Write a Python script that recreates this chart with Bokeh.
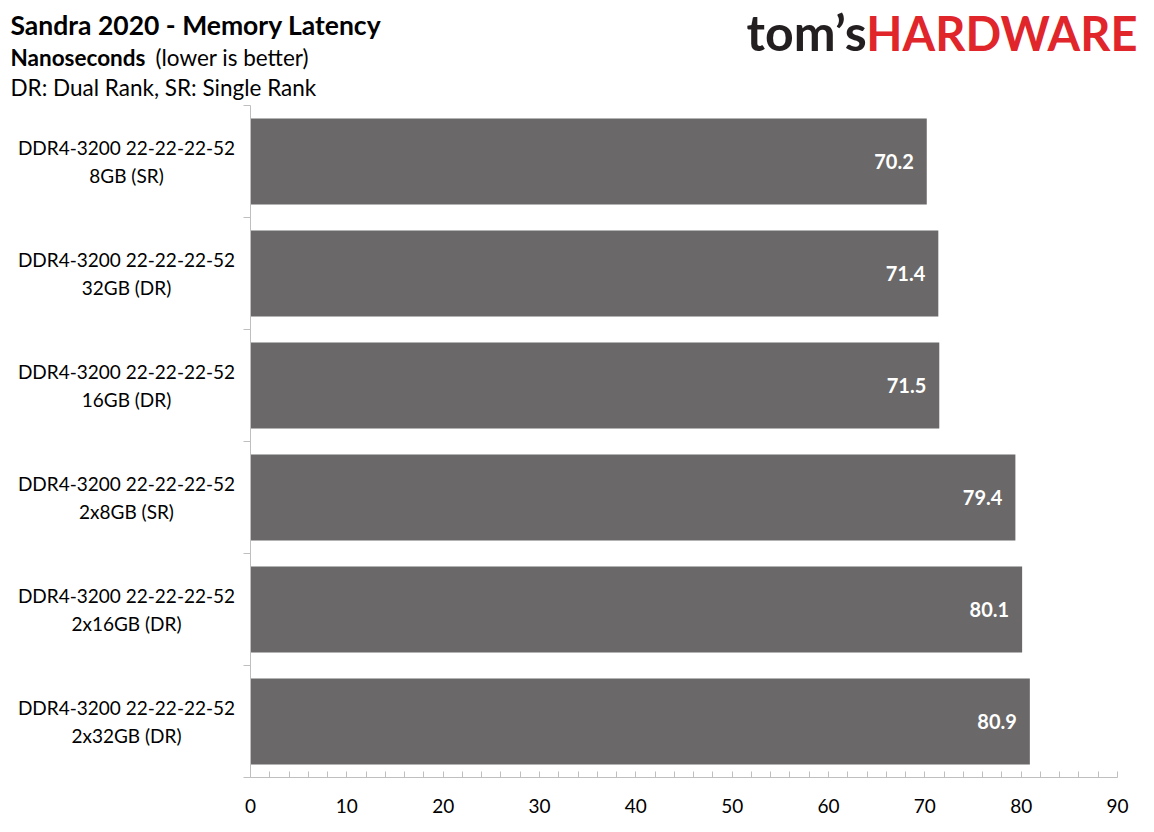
from bokeh.plotting import figure
from bokeh.layouts import column, row
from bokeh.models import ColumnDataSource, Range1d, LinearAxis, FixedTicker
from bokeh.core.properties import value
from bokeh.embed import file_html
from bokeh.resources import INLINE

categories = [
    "DDR4-3200 22-22-22-52\n8GB (SR)",
    "DDR4-3200 22-22-22-52\n32GB (DR)",
    "DDR4-3200 22-22-22-52\n16GB (DR)",
    "DDR4-3200 22-22-22-52\n2x8GB (SR)",
    "DDR4-3200 22-22-22-52\n2x16GB (DR)",
    "DDR4-3200 22-22-22-52\n2x32GB (DR)",
]
latency_ns = [70.2, 71.4, 71.5, 79.4, 80.1, 80.9]
x_ticks = [0, 10, 20, 30, 40, 50, 60, 70, 80, 90]

title = "Sandra 2020 - Memory Latency"
subtitle_bold = "Nanoseconds"
subtitle_rest = "(lower is better)"
note = "DR: Dual Rank, SR: Single Rank"
logo_a = "tom\u2019s"
logo_b = "HARDWARE"

FONT = "Lato"
BAR = "#6a6868"
AXIS = "#bfbfbf"

W, H = 1138, 816
HEAD_H = 105          # header strip height
LAB_W = 243           # category label strip width
BODY_H = H - HEAD_H
n = len(categories)
slot = [n - 0.5 - i for i in range(n)]   # first category at top
src = ColumnDataSource(dict(y=slot, val=latency_ns, cat=categories,
                            lab=[f"{v:.1f}" for v in latency_ns]))
yr = Range1d(0, n)


def bare(width, height, xr, yr_, **kw):
    f = figure(width=width, height=height, output_backend="svg", toolbar_location=None,
               x_range=xr, y_range=yr_, x_axis_type=None, y_axis_type=None,
               min_border=0, **kw)
    f.outline_line_color = None
    f.grid.visible = False
    f.background_fill_color = "white"
    f.border_fill_color = "white"
    return f


# ---------- header ----------
hd = bare(W, HEAD_H, Range1d(0, W), Range1d(HEAD_H, 0))
hsrc = ColumnDataSource(dict(
    t=[title, subtitle_bold, subtitle_rest, note],
    x=[10, 10, 155, 10], y=[24, 57, 57, 87],
    size=["26.5px", "22.5px", "22.5px", "22.5px"],
    style=["bold", "bold", "normal", "normal"]))
hd.text(x="x", y="y", text="t", source=hsrc, text_font=value(FONT), text_font_size="size",
        text_font_style="style", text_color="#000000", text_baseline="alphabetic")
hd.text(x=[746], y=[31], text=[logo_a], text_font=value(FONT), text_font_size="50px",
        text_font_style="bold", text_color="#231f20", text_align="left",
        text_baseline="alphabetic")
hd.text(x=[1137], y=[32], text=[logo_b], text_font=value(FONT), text_font_size="47px",
        text_font_style="bold", text_color="#e0252b", text_align="right",
        text_baseline="alphabetic")

# ---------- category labels ----------
lf = bare(LAB_W, BODY_H, Range1d(0, LAB_W), yr, min_border_bottom=39)
lf.text(x=126, y="y", text="cat", source=src, text_align="center", text_baseline="middle",
        text_font=value(FONT), text_font_size="19px", text_color="#000000",
        text_line_height=1.2)

# ---------- main chart ----------
p = figure(width=W - LAB_W, height=BODY_H, output_backend="svg", toolbar_location=None,
           x_range=Range1d(0, 90), y_range=yr, y_axis_type=None, x_axis_type=None,
           min_border_left=7, min_border_right=21, min_border_top=0, min_border_bottom=39)
p.outline_line_color = None
p.background_fill_color = "white"
p.border_fill_color = "white"

p.hbar(y="y", right="val", left=0, height=0.77, source=src, color=BAR, line_color=None)
p.text(x="val", y="y", text="lab", source=src, x_offset=-13, text_align="right",
       text_baseline="middle", text_color="white", text_font=value(FONT),
       text_font_style="bold", text_font_size="20px")

xa = LinearAxis(ticker=FixedTicker(ticks=x_ticks, minor_ticks=list(range(0, 91, 2))))
xa.axis_line_color = AXIS
xa.major_tick_in = 0
xa.major_tick_out = 0
xa.minor_tick_in = 6
xa.minor_tick_out = 0
xa.minor_tick_line_color = AXIS
xa.major_label_text_font = FONT
xa.major_label_text_font_size = "19px"
xa.major_label_text_color = "#000000"
xa.major_label_standoff = 21
p.add_layout(xa, "below")

p.xgrid.ticker = FixedTicker(ticks=x_ticks)
p.ygrid.visible = False
p.xgrid.grid_line_color = "#000000"
p.xgrid.grid_line_alpha = 0.24
p.xgrid.level = "overlay"

ya = LinearAxis(ticker=FixedTicker(ticks=list(range(n + 1))),
                major_label_overrides={i: "" for i in range(n + 1)})
ya.axis_line_color = AXIS
ya.major_tick_line_color = AXIS
ya.major_tick_out = 7
ya.major_tick_in = 0
ya.minor_tick_line_color = None
ya.major_label_standoff = 0
p.add_layout(ya, "left")

layout = column(hd, row(lf, p))
open("out.html", "w").write(file_html(layout, INLINE))
